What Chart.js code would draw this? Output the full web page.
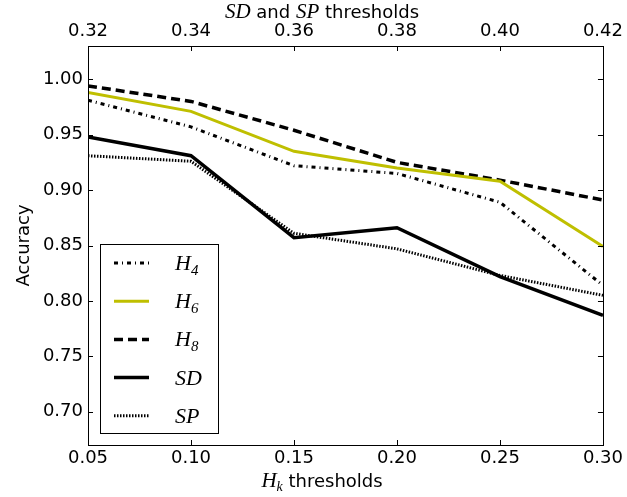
<!DOCTYPE html>
<html>
<head>
<meta charset="utf-8">
<script src="https://cdn.jsdelivr.net/npm/chart.js@4"></script>
<style>
  html, body { margin: 0; padding: 0; background: #fff; }
  canvas { display: block; }
</style>
</head>
<body>
<canvas id="acc" width="627" height="497"></canvas>
<script>
// thresholds on the bottom axis (H_k) and the top axis (SD / SP)
const hkThresholds = [0.05, 0.10, 0.15, 0.20, 0.25, 0.30];
const sdspTicks = [0.32, 0.34, 0.36, 0.38, 0.40, 0.42];
const yTicks = [0.70, 0.75, 0.80, 0.85, 0.90, 0.95, 1.00];

const h4 = [0.981, 0.957, 0.922, 0.915, 0.889, 0.814];
const h6 = [0.988, 0.971, 0.935, 0.920, 0.908, 0.849];
const h8 = [0.994, 0.980, 0.954, 0.925, 0.909, 0.891];
const sd = [0.948, 0.931, 0.857, 0.866, 0.822, 0.787];
const sp = [0.931, 0.926, 0.861, 0.847, 0.823, 0.805];

const TICK_FONT = '18px "DejaVu Sans"';
const MATH_FONT = 'italic 22px "Liberation Serif"';
const SUB_FONT = 'italic 15px "Liberation Serif"';
const TITLE_X = 322;

function pts(vals) {
  return vals.map((v, i) => ({ x: hkThresholds[i], y: v }));
}

function fixedTicks(list) {
  return function (scale) {
    scale.ticks = list.map(v => ({ value: v }));
  };
}

// draw a run of text pieces, each with its own font and baseline shift
function drawPieces(ctx, pieces, x, y, align) {
  let total = 0;
  pieces.forEach(p => { ctx.font = p.font; p.w = ctx.measureText(p.text).width; total += p.w; });
  let cx = align === 'center' ? x - total / 2 : x;
  ctx.textBaseline = 'alphabetic';
  ctx.textAlign = 'left';
  pieces.forEach(p => {
    ctx.font = p.font;
    ctx.fillText(p.text, cx, y + (p.dy || 0));
    cx += p.w;
  });
}

const legendItems = [
  { ds: 0, pieces: [{ text: 'H', font: MATH_FONT }, { text: '4', font: SUB_FONT, dy: 5 }] },
  { ds: 1, pieces: [{ text: 'H', font: MATH_FONT }, { text: '6', font: SUB_FONT, dy: 5 }] },
  { ds: 2, pieces: [{ text: 'H', font: MATH_FONT }, { text: '8', font: SUB_FONT, dy: 5 }] },
  { ds: 3, pieces: [{ text: 'SD', font: MATH_FONT }] },
  { ds: 4, pieces: [{ text: 'SP', font: MATH_FONT }] }
];

const framePlugin = {
  id: 'frame',
  afterDatasetsDraw(chart) {
    const ctx = chart.ctx;
    // legend box, lower left
    const bx = 100, by = 244, bw = 118, bh = 189;
    ctx.save();
    ctx.fillStyle = '#fff';
    ctx.fillRect(bx, by, bw, bh);
    ctx.strokeStyle = '#000';
    ctx.lineWidth = 1;
    ctx.strokeRect(bx + 0.5, by + 0.5, bw, bh);
    legendItems.forEach((item, i) => {
      const ds = chart.data.datasets[item.ds];
      const ry = 263 + i * 38.2;
      ctx.strokeStyle = ds.borderColor;
      ctx.lineWidth = ds.borderWidth;
      ctx.setLineDash(ds.borderDash || []);
      ctx.beginPath();
      ctx.moveTo(114, ry);
      ctx.lineTo(149, ry);
      ctx.stroke();
      ctx.setLineDash([]);
      ctx.fillStyle = '#000';
      drawPieces(ctx, item.pieces, 175, ry + 7, 'left');
    });
    ctx.restore();
  },
  afterDraw(chart) {
    const ctx = chart.ctx;
    const a = chart.chartArea;
    const sx = chart.scales.x, sx2 = chart.scales.x2, sy = chart.scales.y;
    ctx.save();
    ctx.strokeStyle = '#000';
    ctx.lineWidth = 1;
    ctx.strokeRect(Math.round(a.left) + 0.5, Math.round(a.top) + 0.5,
      Math.round(a.right - a.left), Math.round(a.bottom - a.top));
    // inward ticks on all four sides
    ctx.beginPath();
    const L = 5;
    hkThresholds.forEach(v => {
      const px = Math.round(sx.getPixelForValue(v)) + 0.5;
      ctx.moveTo(px, a.bottom); ctx.lineTo(px, a.bottom - L);
    });
    sdspTicks.forEach(v => {
      const px = Math.round(sx2.getPixelForValue(v)) + 0.5;
      ctx.moveTo(px, a.top); ctx.lineTo(px, a.top + L);
    });
    yTicks.forEach(v => {
      const py = Math.round(sy.getPixelForValue(v)) + 0.5;
      ctx.moveTo(a.left, py); ctx.lineTo(a.left + L, py);
      ctx.moveTo(a.right, py); ctx.lineTo(a.right - L, py);
    });
    ctx.stroke();

    // axis titles
    ctx.fillStyle = '#000';
    drawPieces(ctx, [
      { text: 'SD', font: 'italic 21px "Liberation Serif"' },
      { text: ' and ', font: TICK_FONT },
      { text: 'SP', font: 'italic 21px "Liberation Serif"' },
      { text: ' thresholds', font: TICK_FONT }
    ], TITLE_X, 18, 'center');
    drawPieces(ctx, [
      { text: 'H', font: 'italic 21px "Liberation Serif"' },
      { text: 'k', font: 'italic 14px "Liberation Serif"', dy: 4 },
      { text: ' thresholds', font: TICK_FONT }
    ], TITLE_X, 487, 'center');
    ctx.translate(24, (a.top + a.bottom) / 2);
    ctx.rotate(-Math.PI / 2);
    ctx.font = TICK_FONT;
    ctx.textAlign = 'center';
    ctx.textBaseline = 'middle';
    ctx.fillText('Accuracy', 0, 0);
    ctx.restore();
  }
};

const tickFont = { family: 'DejaVu Sans', size: 18 };

new Chart(document.getElementById('acc').getContext('2d'), {
  type: 'line',
  data: {
    datasets: [
      { label: 'H4', data: pts(h4), borderColor: '#000', borderWidth: 3, borderDash: [4, 4, 1, 4] },
      { label: 'H6', data: pts(h6), borderColor: '#bfbf00', borderWidth: 3 },
      { label: 'H8', data: pts(h8), borderColor: '#000', borderWidth: 3.5, borderDash: [9, 5] },
      { label: 'SD', data: pts(sd), borderColor: '#000', borderWidth: 3.5 },
      { label: 'SP', data: pts(sp), borderColor: '#000', borderWidth: 3, borderDash: [1.5, 1.5] }
    ]
  },
  options: {
    responsive: false,
    animation: false,
    layout: { padding: { left: 0, right: 23, top: 0, bottom: 0 } },
    elements: { point: { radius: 0 }, line: { tension: 0, fill: false } },
    plugins: { legend: { display: false }, tooltip: { enabled: false } },
    scales: {
      x: {
        type: 'linear', position: 'bottom', min: 0.05, max: 0.30,
        afterBuildTicks: fixedTicks(hkThresholds),
        afterFit(s) { s.height = 52; },
        grid: { display: false, drawTicks: false }, border: { display: false },
        ticks: { color: '#000', font: tickFont, padding: 3,
          maxRotation: 0, callback: v => v.toFixed(2) }
      },
      x2: {
        type: 'linear', position: 'top', min: 0.32, max: 0.42,
        afterBuildTicks: fixedTicks(sdspTicks),
        afterFit(s) { s.height = 46; },
        grid: { display: false, drawTicks: false }, border: { display: false },
        ticks: { color: '#000', font: tickFont, padding: 4,
          maxRotation: 0, callback: v => v.toFixed(2) }
      },
      y: {
        type: 'linear', min: 0.67, max: 1.03,
        afterBuildTicks: fixedTicks(yTicks),
        afterFit(s) { s.width = 88; },
        grid: { display: false, drawTicks: false }, border: { display: false },
        ticks: { color: '#000', font: tickFont, padding: 5,
          callback: v => v.toFixed(2) }
      }
    }
  },
  plugins: [framePlugin]
});
</script>
</body>
</html>
